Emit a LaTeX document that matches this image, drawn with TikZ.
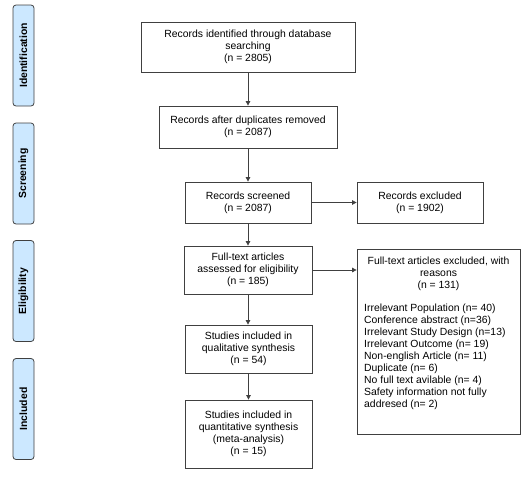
\documentclass[tikz,border=0pt]{standalone}
\usepackage{fontspec}
\setmainfont{Liberation Sans}
\usetikzlibrary{arrows.meta}
\definecolor{phasefill}{RGB}{204,232,255}
\definecolor{linegray}{RGB}{64,64,64}
\begin{document}
\begin{tikzpicture}[x=1pt,y=-1pt,
  box/.style={draw=linegray, line width=0.8pt, align=center, font=\fontsize{10.4}{12}\selectfont, inner sep=2pt},
  phase/.style={draw=linegray, line width=0.8pt, fill=phasefill, rounded corners=3pt, minimum width=21pt, minimum height=101pt, inner sep=0pt},
  phasetext/.style={rotate=90, font=\bfseries\fontsize{10.4}{12}\selectfont},
  arr/.style={draw=linegray, line width=0.8pt, -{Triangle[length=4.5pt,width=4.5pt]}}]
\useasboundingbox (0,0) rectangle (532,480);
% phase labels
\node[phase] (p1) at (23.5,55.5) {};
\node[phasetext] (p1t) at (p1.center) {Identification};
\node[phase] (p2) at (23.5,173.5) {};
\node[phasetext] (p2t) at (p2.center) {Screening};
\node[phase] (p3) at (23.5,291) {};
\node[phasetext] (p3t) at (p3.center) {Eligibility};
\node[phase] (p4) at (23.5,409) {};
\node[phasetext] (p4t) at (p4.center) {Included};
% main boxes
\node[box, minimum width=214pt, minimum height=50pt] (b1) at (248,47) {Records identified through database\\searching\\(n = 2805)};
\node[box, minimum width=178pt, minimum height=42pt] (b2) at (248,127) {Records after duplicates removed\\(n = 2087)};
\node[box, minimum width=126pt, minimum height=41pt] (b3) at (248,202.5) {Records screened\\(n = 2087)};
\node[box, minimum width=126pt, minimum height=41pt] (e1) at (420,202.5) {Records excluded\\(n = 1902)};
\node[box, minimum width=128pt, minimum height=48pt] (b4) at (248,270) {Full-text articles\\assessed for eligibility\\(n = 185)};
\node[box, minimum width=163pt, minimum height=185pt] (e2) at (438.5,341.5) {};
\node[font=\fontsize{10.4}{12}\selectfont, align=center, anchor=north, inner sep=0pt] (e2h) at (438.5,257) {Full-text articles excluded, with\\reasons\\(n = 131)};
\node[font=\fontsize{10.4}{12}\selectfont, align=left, anchor=north west, inner sep=0pt] (e2l) at (364,304) {Irrelevant Population (n= 40)\\Conference abstract (n=36)\\Irrelevant Study Design (n=13)\\Irrelevant Outcome (n= 19)\\Non-english Article (n= 11)\\Duplicate (n= 6)\\No full text avilable (n= 4)\\Safety information not fully\\addresed (n= 2)};
\node[box, minimum width=127pt, minimum height=48pt] (b5) at (248.5,349) {Studies included in\\qualitative synthesis\\(n = 54)};
\node[box, minimum width=127pt, minimum height=68pt] (b6) at (248.5,434) {Studies included in\\quantitative synthesis\\(meta-analysis)\\(n = 15)};
% arrows
\draw[arr] (b1.south) -- (b2.north);
\draw[arr] (b2.south) -- (b3.north);
\draw[arr] (b3.east) -- (e1.west);
\draw[arr] (b3.south) -- (b4.north);
\draw[arr] (b4.east) -- (b4.east -| e2.west);
\draw[arr] (b4.south) -- (b4.south |- b5.north);
\draw[arr] (b5.south) -- (b5.south |- b6.north);
\end{tikzpicture}
\end{document}
